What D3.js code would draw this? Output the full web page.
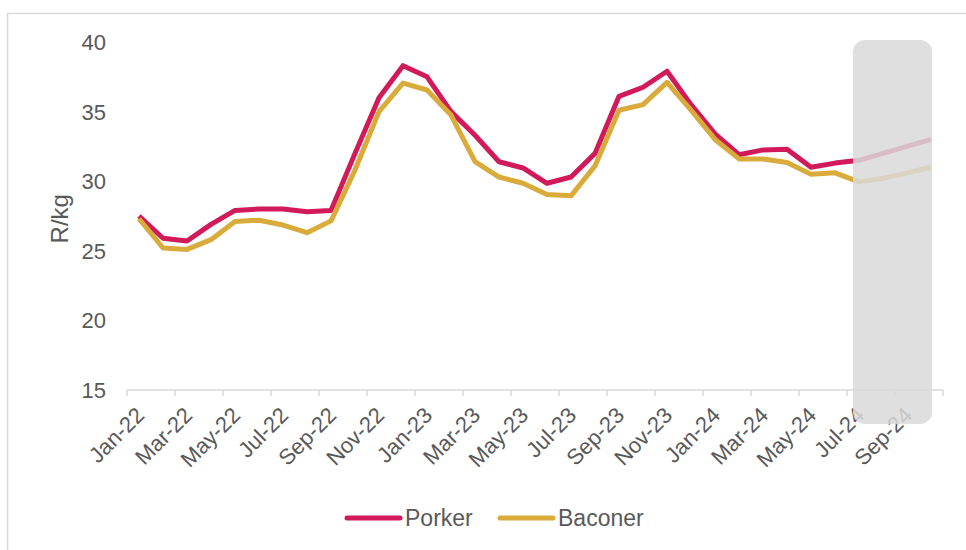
<!DOCTYPE html>
<meta charset="utf-8">
<style>
  body { margin: 0; background: #fff; }
  text { font-family: "Liberation Sans", Arial, sans-serif; fill: #595959; }
</style>
<svg width="966" height="550"></svg>
<script src="https://cdn.jsdelivr.net/npm/d3@7"></script>
<script>

var months = ["Jan-22","Feb-22","Mar-22","Apr-22","May-22","Jun-22","Jul-22","Aug-22","Sep-22","Oct-22","Nov-22","Dec-22",
              "Jan-23","Feb-23","Mar-23","Apr-23","May-23","Jun-23","Jul-23","Aug-23","Sep-23","Oct-23","Nov-23","Dec-23",
              "Jan-24","Feb-24","Mar-24","Apr-24","May-24","Jun-24","Jul-24","Aug-24","Sep-24","Oct-24"];

var porker  = [27.5, 25.9, 25.7, 26.9, 27.9, 28.0, 28.0, 27.8, 27.9, 32.0, 36.0, 38.3,
               37.5, 35.0, 33.3, 31.4, 30.95, 29.85, 30.3, 32.0, 36.1, 36.75, 37.9, 35.5,
               33.4, 31.9, 32.25, 32.3, 31.0, 31.3, 31.5, 32.0, 32.5, 33.0];

var baconer = [27.3, 25.2, 25.1, 25.8, 27.1, 27.2, 26.85, 26.3, 27.15, 30.8, 35.0, 37.05,
               36.55, 34.75, 31.4, 30.3, 29.85, 29.05, 28.95, 31.1, 35.1, 35.5, 37.1, 35.1,
               33.0, 31.6, 31.6, 31.35, 30.5, 30.6, 29.95, 30.2, 30.6, 31.0];

var yTicks = [15, 20, 25, 30, 35, 40];
var forecastFrom = "Jul-24";

var series = [
  { name: "Porker",  values: porker,  color: "#d21a5b" },
  { name: "Baconer", values: baconer, color: "#d9ab3b" }
];

var svg = d3.select("svg");

// outer chart border (cropped on right / bottom)
svg.append("rect")
    .attr("x", 7.5).attr("y", 13.5)
    .attr("width", 1000).attr("height", 600)
    .attr("fill", "none")
    .attr("stroke", "#d9d9d9")
    .attr("stroke-width", 1.5);

var x = d3.scaleBand().domain(months).range([127, 943]).padding(0);
var y = d3.scaleLinear().domain([15, 40]).range([390, 42]);
var xc = function(m) { return x(m) + x.bandwidth() / 2; };

// y labels
svg.append("g").selectAll("text")
    .data(yTicks)
  .enter().append("text")
    .attr("x", 106)
    .attr("y", function(d) { return y(d); })
    .attr("dy", "0.36em")
    .attr("text-anchor", "end")
    .style("font-size", "22px")
    .text(function(d) { return d; });

svg.append("text")
    .attr("transform", "translate(68," + y(27.3) + ") rotate(-90)")
    .attr("text-anchor", "middle")
    .style("font-size", "24px")
    .text("R/kg");

// x axis line + ticks every 2 months
var tickX = months.filter(function(d, i) { return i % 2 === 0; }).map(function(m) { return x(m); });
tickX.push(x.range()[1]);

var axis = svg.append("g");
axis.append("line")
    .attr("x1", x.range()[0]).attr("x2", x.range()[1])
    .attr("y1", 390).attr("y2", 390)
    .attr("stroke", "#d9d9d9").attr("stroke-width", 1.5);
axis.selectAll(".tick")
    .data(tickX)
  .enter().append("line")
    .attr("x1", function(d) { return d; }).attr("x2", function(d) { return d; })
    .attr("y1", 390).attr("y2", 396)
    .attr("stroke", "#d9d9d9").attr("stroke-width", 1.5);

axis.selectAll(".lbl")
    .data(months.filter(function(d, i) { return i % 2 === 0; }))
  .enter().append("text")
    .attr("transform", function(d) { return "translate(" + (xc(d) + 1) + ",411) rotate(-45)"; })
    .attr("text-anchor", "end")
    .attr("dy", "0.36em")
    .style("font-size", "22px")
    .text(function(d) { return d; });

// lines
var line = d3.line()
    .x(function(d, i) { return xc(months[i]); })
    .y(function(d) { return y(d); });

svg.append("g").selectAll("path")
    .data(series)
  .enter().append("path")
    .attr("d", function(d) { return line(d.values); })
    .attr("fill", "none")
    .attr("stroke", function(d) { return d.color; })
    .attr("stroke-width", 5)
    .attr("stroke-linejoin", "round");

// forecast shading drawn over lines
svg.append("rect")
    .attr("x", xc(forecastFrom) - 6)
    .attr("y", 40)
    .attr("width", xc(months[months.length - 1]) - xc(forecastFrom) + 7)
    .attr("height", 384)
    .attr("rx", 12)
    .attr("fill", "#d9d9d9")
    .attr("opacity", 0.85);

// legend
var legend = svg.append("g").selectAll("g")
    .data(series)
  .enter().append("g")
    .attr("transform", function(d, i) { return "translate(" + (345 + i * 153) + ",518)"; });
legend.append("line")
    .attr("x1", 2).attr("x2", 55)
    .attr("stroke", function(d) { return d.color; })
    .attr("stroke-width", 5)
    .attr("stroke-linecap", "round");
legend.append("text")
    .attr("x", 60)
    .attr("dy", "0.36em")
    .style("font-size", "23px")
    .text(function(d) { return d.name; });

</script>
